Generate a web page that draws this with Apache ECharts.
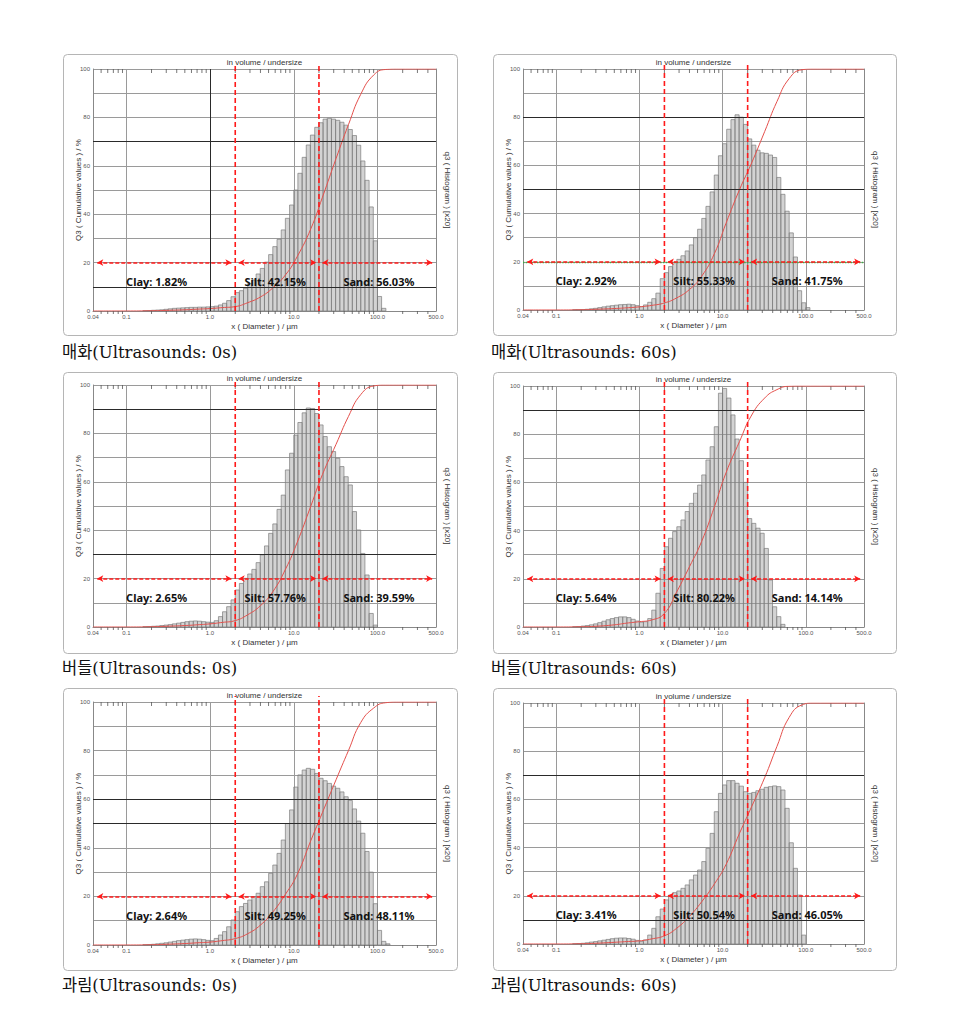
<!DOCTYPE html>
<html>
<head>
<meta charset="utf-8">
<script src="https://cdn.jsdelivr.net/npm/echarts@6.0.0/dist/echarts.min.js"></script>
<style>
  html, body { margin: 0; background: #fff; }
  #main { width: 960px; height: 1016px; }
</style>
</head>
<body>
<div id="main"></div>
<script>
// captions under each panel
const captions = ['매화(Ultrasounds: 0s)', '매화(Ultrasounds: 60s)', '버들(Ultrasounds: 0s)',
                  '버들(Ultrasounds: 60s)', '과림(Ultrasounds: 0s)', '과림(Ultrasounds: 60s)'];
const clay = [1.82, 2.92, 2.65, 5.64, 2.64, 3.41];
const silt = [42.15, 55.33, 57.76, 80.22, 49.25, 50.54];
const sand = [56.03, 41.75, 39.59, 14.14, 48.11, 46.05];

// histogram classes: 20 per decade, starting at 0.1 um
const binSteps = [1.00, 1.12, 1.26, 1.41, 1.58, 1.78, 2.00, 2.24, 2.51, 2.82,
                  3.16, 3.55, 3.98, 4.47, 5.01, 5.62, 6.31, 7.08, 7.94, 8.91];
const binDecades = [0.1, 1, 10, 100];

// q3 heights per class, rows = decades 0.1 / 1 / 10 / 100
const hist1 = [0, 0, 0, 0, 0.1, 0.2, 0.3, 0.4, 0.5, 0.7, 0.9, 1.1, 1.2, 1.3, 1.4, 1.5, 1.5, 1.6, 1.6, 1.7,
  1.8, 2.0, 2.5, 3.2, 4.3, 5.9, 7.6, 8.4, 9.4, 11.4, 12.8, 15.3, 17.6, 20.2, 23.3, 26.6, 29.6, 33.5, 38.3, 43.8,
  50, 56.9, 63.5, 68.6, 72.7, 75.9, 77.8, 79.3, 79.6, 79.3, 78.8, 78, 76.8, 75, 72.5, 68.5, 62, 54, 43, 29,
  6, 1.1, 0];
const hist2 = [0, 0, 0, 0, 0.1, 0.1, 0.2, 0.3, 0.5, 0.7, 1, 1.3, 1.6, 1.8, 2, 2.2, 2.3, 2.4, 2.2, 1.8,
  1.4, 2.1, 3.2, 4.7, 7, 13, 15.5, 18, 19.8, 21, 22.5, 24.5, 27, 30, 33.5, 38, 43, 49, 56, 64,
  69, 75, 79, 81, 80, 77, 71, 68.4, 66.3, 65.2, 65, 64.3, 63.3, 55, 48, 41, 32, 22, 8, 3,
  1, 0, 0];
const hist3 = [0, 0, 0, 0, 0.1, 0.2, 0.3, 0.4, 0.6, 0.8, 1.0, 1.3, 1.6, 1.9, 2.2, 2.4, 2.5, 2.4, 2.2, 2.0,
  1.9, 2.6, 4.3, 6.3, 8.4, 11.2, 15.3, 18, 20.1, 21.9, 23.8, 26.6, 29.8, 33.5, 38.7, 42.6, 48.6, 54.5, 64.9, 71.8,
  79.3, 84.5, 88.5, 90.5, 90.3, 88.2, 83.5, 78.7, 74.5, 72.5, 69.7, 66.3, 62.1, 58.7, 47.7, 40.1, 30.4, 21.5, 5.6, 0.8,
  0, 0, 0];
const hist4 = [0, 0, 0, 0, 0.1, 0.2, 0.4, 0.6, 0.9, 1.3, 1.8, 2.4, 3.0, 3.5, 3.9, 4.2, 4.2, 3.9, 3.2, 2.5,
  2.0, 2.2, 3.5, 7, 14, 24.3, 33.3, 36.8, 39.6, 41.6, 44.4, 47.9, 51.3, 55.5, 58.9, 63.1, 69.3, 74.8, 83.1, 97,
  99, 95, 88, 78, 69, 60, 45, 43, 41, 38.9, 32.6, 19.5, 8.4, 4.3, 1.1, 0, 0, 0, 0, 0,
  0, 0, 0];
const hist5 = [0, 0, 0, 0, 0.1, 0.2, 0.3, 0.5, 0.7, 0.9, 1.2, 1.5, 1.8, 2.0, 2.2, 2.4, 2.5, 2.4, 2.2, 1.9,
  1.8, 2.7, 4.1, 5.5, 7.5, 10.3, 13.7, 15.8, 17.1, 18.5, 19.9, 21.3, 24, 26, 29.5, 32.9, 37.7, 43.2, 50, 55.6,
  65, 70, 72, 72.7, 72.3, 70.6, 68.6, 67.6, 66.5, 65.4, 64.5, 63, 61, 59.5, 56, 51, 46, 38.5, 30, 17,
  6, 1.5, 0.5];
const hist6 = [0, 0, 0, 0, 0.1, 0.2, 0.3, 0.5, 0.8, 1.0, 1.3, 1.6, 1.9, 2.2, 2.4, 2.5, 2.5, 2.3, 2.0, 1.5,
  1.0, 1.7, 3.7, 6.5, 11.3, 14.5, 18.3, 20.3, 21.3, 22, 23.1, 24.5, 26.6, 28.6, 30.7, 34.2, 39.7, 45.9, 54.9, 62.5,
  66, 67.8, 67.8, 66.7, 65.5, 63.2, 62.5, 62.9, 63.6, 64.2, 65, 65.3, 65.6, 65.3, 63.9, 56.3, 42, 31.4, 20.3, 3.7,
  0, 0, 0];

// Q3 cumulative curve, read at these sizes
const cumX = [0.04, 0.1, 0.2, 0.3, 0.5, 0.7, 1, 1.4, 2, 2.8, 4, 5.6, 8, 11, 16, 22, 32, 45, 63, 90, 125, 180, 500];
const cum1 = [0, 0, 0.1, 0.25, 0.5, 0.75, 1.0, 1.4, 1.82, 3.4, 5.8, 9.5, 15, 22.5, 34, 47, 63, 77, 89.5, 97.5, 99.8, 100, 100];
const cum2 = [0, 0, 0.1, 0.3, 0.6, 0.9, 1.3, 1.9, 2.92, 5, 8.5, 14, 23.5, 36, 50, 60.5, 74, 86.5, 96, 99.7, 100, 100, 100];
const cum3 = [0, 0, 0.1, 0.3, 0.6, 0.9, 1.3, 1.9, 2.65, 5, 8.8, 14.5, 24, 35, 50, 63, 75.5, 87, 96, 99.6, 100, 100, 100];
const cum4 = [0, 0, 0.1, 0.3, 0.9, 1.6, 2.2, 2.9, 5.64, 14.5, 25, 35.5, 50, 64, 77, 87.5, 95, 98.5, 99.9, 100, 100, 100, 100];
const cum5 = [0, 0, 0.1, 0.3, 0.6, 0.9, 1.2, 1.8, 2.64, 4.6, 8.2, 13.5, 21, 29, 43, 54.5, 68, 80, 91.5, 97.5, 99.7, 100, 100];
const cum6 = [0, 0, 0.1, 0.3, 0.7, 1.0, 1.3, 2.1, 3.41, 6.5, 11.5, 17.5, 25, 33, 46, 56.5, 69, 82, 94, 99.2, 100, 100, 100];

const minorTicks = [0.05, 0.06, 0.07, 0.08, 0.09, 0.2, 0.3, 0.4, 0.5, 0.6, 0.7, 0.8, 0.9,
                    2, 3, 4, 5, 6, 7, 8, 9, 20, 30, 40, 50, 60, 70, 80, 90, 200, 300, 400];
const boundaries = [2, 20];
const arrowSpans = [[0.045, 1.8], [2.2, 18.5], [22, 450]];
const labelX = [0.23, 6, 104];
const labelY = 12.3;
const darkH = [[10, 70], [50, 80], [30, 90], [90], [50, 60], [10, 70]];
const darkV = [[1], [], [], [], [], []];
const greenGuide = [false, true, false, false, false, false];

const hists = [hist1, hist2, hist3, hist4, hist5, hist6];
const cums = [cum1, cum2, cum3, cum4, cum5, cum6];

// panel geometry (plot area, outer frame, caption position)
const panels = [
  { left: 93, top: 69, width: 343, height: 242, box: [63, 54, 394, 281], cap: [62, 352] },
  { left: 523, top: 69, width: 341, height: 241, box: [493, 54, 403, 281], cap: [491, 352] },
  { left: 93, top: 385, width: 343, height: 242, box: [63, 372, 394, 281], cap: [62, 668] },
  { left: 523, top: 386, width: 341, height: 241, box: [493, 372, 403, 281], cap: [491, 668] },
  { left: 93, top: 702, width: 343, height: 243, box: [63, 688, 394, 282], cap: [62, 985] },
  { left: 523, top: 703, width: 341, height: 241, box: [493, 688, 403, 282], cap: [491, 985] }
];

const binEdges = [];
binDecades.forEach(d => binSteps.forEach(s => binEdges.push(+(d * s).toPrecision(3))));

const sansFont = 'Liberation Sans, Arial, sans-serif';
const RED = '#ff1a1a';

const grids = [], xAxes = [], yAxes = [], series = [], graphics = [];

panels.forEach((p, i) => {
  grids.push({ left: p.left, top: p.top, width: p.width, height: p.height });

  xAxes.push({
    type: 'log', gridIndex: i, min: 0.04, max: 500, logBase: 10,
    name: 'x ( Diameter ) / µm', nameLocation: 'middle', nameGap: 11, nameMoveOverlap: false,
    nameTextStyle: { fontSize: 8, color: '#333', fontFamily: sansFont },
    axisLine: { show: true, lineStyle: { color: '#888', width: 1 } },
    axisTick: { show: false },
    axisLabel: {
      fontSize: 6, color: '#555', margin: 3, fontFamily: sansFont,
      formatter: v => (v < 0.09 ? v.toFixed(2) : v.toFixed(1))
    },
    splitLine: { show: true, lineStyle: { color: '#9a9a9a', width: 1 } }
  });

  yAxes.push({
    type: 'value', gridIndex: i, min: 0, max: 100, interval: 10, position: 'left',
    name: 'Q3 ( Cumulative values ) / %', nameLocation: 'middle', nameRotate: 90, nameGap: 11,
    nameMoveOverlap: false,
    nameTextStyle: { fontSize: 8, color: '#333', fontFamily: sansFont },
    axisLine: { show: true, lineStyle: { color: '#888' } },
    axisTick: { show: false },
    axisLabel: { fontSize: 6, color: '#555', margin: 3, fontFamily: sansFont,
                 formatter: v => (v % 20 === 0 ? String(v) : '') },
    splitLine: { show: true, lineStyle: { color: '#9a9a9a', width: 1 } }
  });

  const h = hists[i];
  // histogram bars
  series.push({
    type: 'custom', xAxisIndex: i, yAxisIndex: i, z: 2, silent: true,
    data: h.map((v, j) => [binEdges[j], binEdges[j + 1], v]).filter(d => d[2] > 0),
    encode: { x: [0, 1], y: 2 },
    renderItem: (params, api) => {
      const a = api.coord([api.value(0), 0]);
      const b = api.coord([api.value(1), api.value(2)]);
      return {
        type: 'rect',
        shape: { x: a[0], y: b[1], width: b[0] - a[0], height: a[1] - b[1] },
        style: { fill: 'rgba(150,150,150,0.42)', stroke: '#7d7d7d', lineWidth: 0.7 }
      };
    }
  });

  // minor ticks along the top and bottom edge
  series.push({
    type: 'custom', xAxisIndex: i, yAxisIndex: i, z: 3, silent: true,
    data: minorTicks.map(v => [v, 0]),
    encode: { x: 0, y: 1 },
    renderItem: (params, api) => {
      const t = api.coord([api.value(0), 100]);
      const b = api.coord([api.value(0), 0]);
      return {
        type: 'group', children: [
          { type: 'line', shape: { x1: t[0], y1: t[1], x2: t[0], y2: t[1] + 4 }, style: { stroke: '#555', lineWidth: 0.8 } },
          { type: 'line', shape: { x1: b[0], y1: b[1], x2: b[0], y2: b[1] + 3 }, style: { stroke: '#555', lineWidth: 0.8 } }
        ]
      };
    }
  });

  // clay / silt / sand boundaries
  series.push({
    type: 'custom', xAxisIndex: i, yAxisIndex: i, z: 5, silent: true,
    data: boundaries.map(v => [v, 100]),
    encode: { x: 0, y: 1 },
    renderItem: (params, api) => {
      const t = api.coord([api.value(0), 100]);
      const b = api.coord([api.value(0), 0]);
      return {
        type: 'line', shape: { x1: b[0], y1: b[1], x2: t[0], y2: t[1] - 6 },
        style: { stroke: RED, lineWidth: 1.6, lineDash: [5, 3] }
      };
    }
  });

  const mark = [];
  darkH[i].forEach(v => mark.push({ yAxis: v, lineStyle: { color: '#2a2a2a', width: 1, type: 'solid' } }));
  darkV[i].forEach(v => mark.push({ xAxis: v, lineStyle: { color: '#2a2a2a', width: 1, type: 'solid' } }));
  if (greenGuide[i]) mark.push({ yAxis: 20, lineStyle: { color: '#3cb043', width: 1.4, type: 'dotted' } });
  arrowSpans.forEach(s => mark.push([
    { coord: [s[0], 20], symbol: 'arrow', symbolSize: [5, 6] },
    { coord: [s[1], 20], symbol: 'arrow', symbolSize: [5, 6],
      lineStyle: { color: RED, width: 1.5, type: [4, 2] } }
  ]));

  // cumulative curve
  series.push({
    type: 'line', xAxisIndex: i, yAxisIndex: i, z: 4, symbol: 'none',
    smooth: 0.5, silent: true,
    data: cumX.map((x, j) => [x, cums[i][j]]),
    lineStyle: { color: '#e4504c', width: 1 },
    markLine: {
      silent: true, symbol: ['none', 'none'], animation: false,
      label: { show: false },
      lineStyle: { color: RED, width: 1.5, type: [4, 2] },
      data: mark
    }
  });

  // fraction labels
  const texts = ['Clay: ' + clay[i].toFixed(2) + '%', 'Silt: ' + silt[i].toFixed(2) + '%',
                 'Sand: ' + sand[i].toFixed(2) + '%'];
  series.push({
    type: 'custom', xAxisIndex: i, yAxisIndex: i, z: 6, silent: true,
    data: labelX.map(x => [x, labelY]),
    encode: { x: 0, y: 1 },
    renderItem: (params, api) => {
      const c = api.coord([api.value(0), api.value(1)]);
      return {
        type: 'text', x: c[0], y: c[1],
        style: { text: texts[params.dataIndex], fontSize: 11, fontWeight: 'bold',
                 fontFamily: 'Noto Sans, sans-serif', fill: '#111', align: 'center', verticalAlign: 'middle' }
      };
    }
  });

  graphics.push({
    type: 'rect', silent: true, z: -1,
    shape: { x: p.box[0] + 0.5, y: p.box[1] + 0.5, width: p.box[2], height: p.box[3], r: 4 },
    style: { fill: 'none', stroke: '#b5b5b5', lineWidth: 1 }
  });
  graphics.push({
    type: 'text', silent: true, x: p.left + p.width / 2, y: p.top - 7,
    style: { text: 'in volume / undersize', fontSize: 8, fontFamily: sansFont, fill: '#333',
             align: 'center', verticalAlign: 'middle' }
  });
  graphics.push({
    type: 'text', silent: true, x: p.cap[0], y: p.cap[1],
    style: { text: captions[i], fontSize: 16.5, fontFamily: 'DejaVu Serif, Noto Sans CJK KR, serif',
             fill: '#111', align: 'left', verticalAlign: 'middle' }
  });
});

// right-hand histogram axes (name only)
panels.forEach((p, i) => {
  yAxes.push({
    type: 'value', gridIndex: i, min: 0, max: 100, position: 'right',
    name: 'q3 ( Histogram ) [x20]', nameLocation: 'middle', nameRotate: -90, nameGap: 7,
    nameMoveOverlap: false,
    nameTextStyle: { fontSize: 8, color: '#333', fontFamily: sansFont },
    axisLine: { show: true, lineStyle: { color: '#888' } },
    axisTick: { show: false }, axisLabel: { show: false }, splitLine: { show: false }
  });
});

const chart = echarts.init(document.getElementById('main'), null, { renderer: 'svg' });
chart.setOption({
  animation: false,
  backgroundColor: '#fff',
  grid: grids,
  xAxis: xAxes,
  yAxis: yAxes,
  series: series,
  graphic: graphics
});
</script>
</body>
</html>
